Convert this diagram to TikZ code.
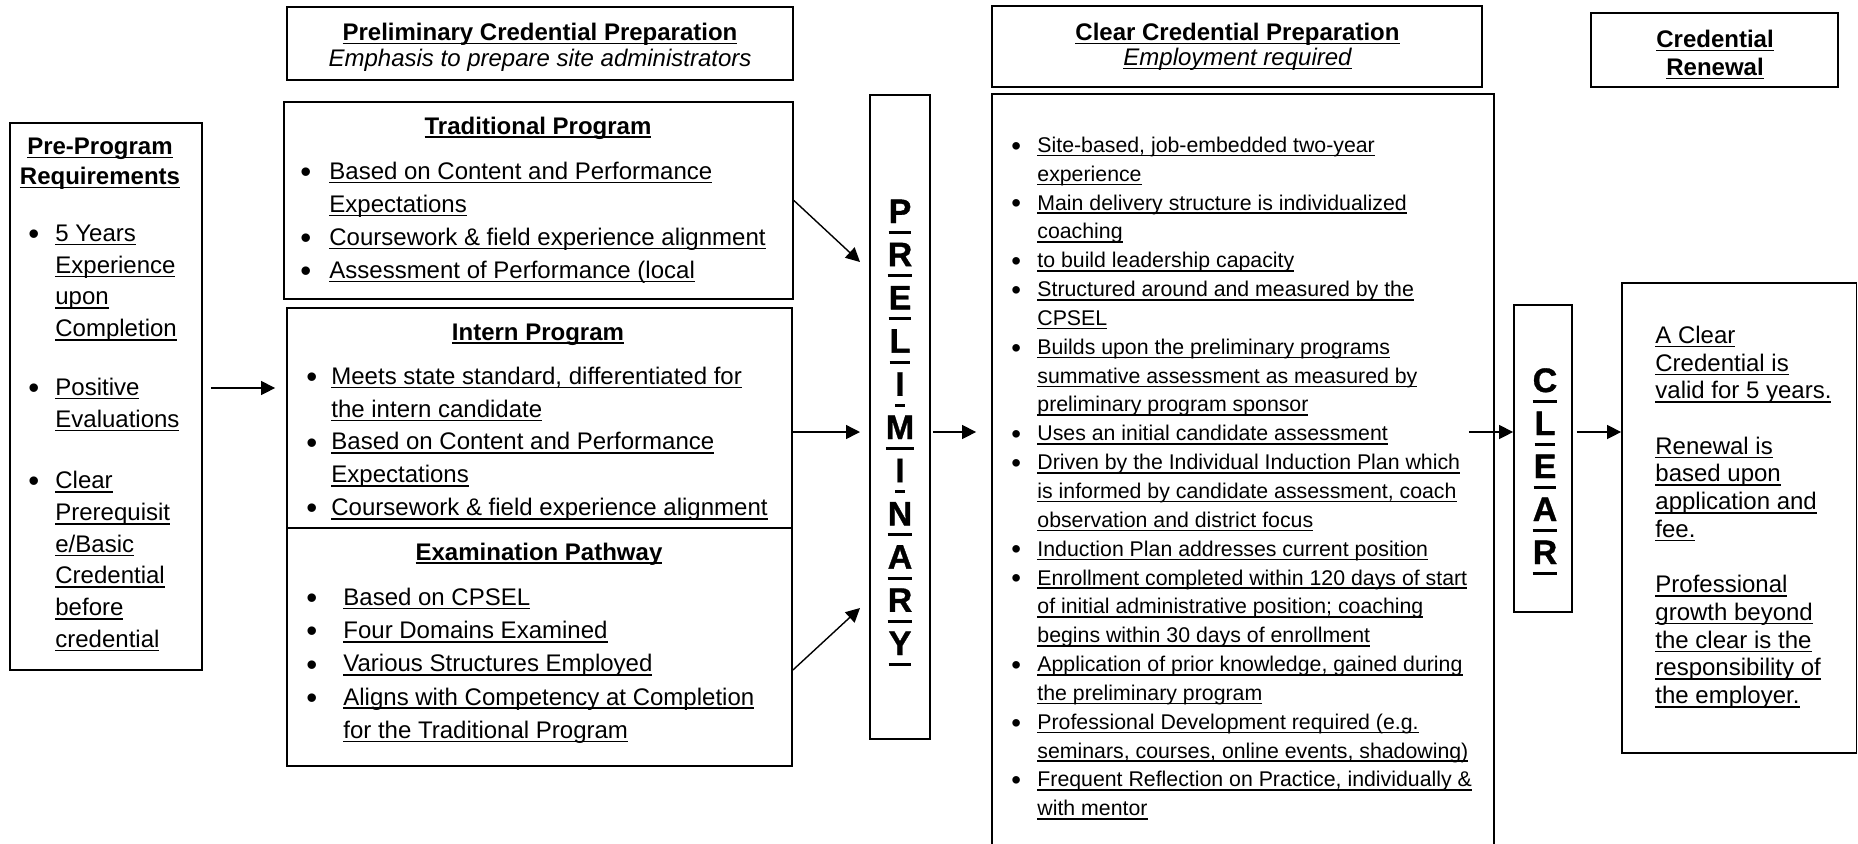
\documentclass[tikz,border=0pt]{standalone}
\usepackage{fontspec}
\usepackage{graphicx}
\setmainfont{Liberation Sans}
\newfontfamily\heavy[FakeBold=1]{Liberation Sans}
\usetikzlibrary{fit,arrows.meta}

\newsavebox{\ulbox}
\newlength{\uldp}
\setlength{\uldp}{2pt}
\newcommand{\ulth}{0.8pt}
\newcommand{\und}[1]{\sbox\ulbox{#1}\rlap{\rule[-\uldp]{\wd\ulbox}{\ulth}}\usebox\ulbox}
\newcommand{\bul}[1]{\llap{\raisebox{-0.25ex}{\scalebox{1.3}{\textbullet}}\hspace{#1}}}
\newcommand{\bigletter}[1]{{\heavy\bfseries\renewcommand{\ulth}{1.5pt}\setlength{\uldp}{5.5pt}\und{#1}}}

\begin{document}
\begin{tikzpicture}
  [x=0.5pt,y=-0.5pt,
   box/.style={draw,
               line width=0.9pt,
               inner sep=0pt},
   txt/.style={inner sep=0pt,
               align=left,
               anchor=north west},
   ctr/.style={inner sep=0pt,
               align=center,
               anchor=north},
   hd/.style={inner sep=0pt,
              anchor=base,
              font={\fontsize{12}{14}\selectfont\bfseries}},
   letter/.style={inner sep=0pt,
                  anchor=base,
                  font={\fontsize{17}{20}\selectfont}},
   arr/.style={-{Triangle[length=7pt,width=7pt]},
               line width=0.7pt}]
  \useasboundingbox (0,0) rectangle (1858,843);

  \node[box, fit={(10,123) (202,670)}] (pre) {};
  \node[box, fit={(287,7) (793,80)}] (prelimhead) {};
  \node[box, fit={(284,102) (793,299)}] (trad) {};
  \node[box, fit={(287,308) (792,528)}] (intern) {};
  \node[box, fit={(287,528) (792,766)}] (exam) {};
  \node[box, fit={(870,95) (930,739)}] (prelim) {};
  \node[box, fit={(992,6) (1482,87)}] (clearhead) {};
  \node[box, fit={(992,94) (1494,870)}] (clearbody) {};
  \node[box, fit={(1514,305) (1572,612)}] (clear) {};
  \node[box, fit={(1591,13) (1838,87)}] (renewhead) {};
  \node[box, fit={(1622,283) (1856.5,753)}] (renewbody) {};

  \node[ctr, font={\fontsize{12}{15}\selectfont\bfseries}] (pretitle) at (100,133)
    {\strut\und{Pre-Program}\\\und{Requirements}};
  \node[txt, font={\fontsize{12}{15.85}\selectfont}] (prelist) at (55,218.8)
    {\strut\bul{8pt}\und{5 Years}\\\und{Experience}\\\und{upon}\\\und{Completion}\\[13.6pt]%
     \bul{8pt}\und{Positive}\\\und{Evaluations}\\[15pt]%
     \bul{8pt}\und{Clear}\\\und{Prerequisit}\\\und{e/Basic}\\\und{Credential}\\\und{before}\\\und{credential}};

  \node[ctr, font={\fontsize{12}{13}\selectfont}] (prelimtitle) at (540,21.8)
    {\strut\textbf{\und{Preliminary Credential Preparation}}\\\textit{Emphasis to prepare site administrators}};

  \node[hd] (tradtitle) at (538,134) {\und{Traditional Program}};
  \node[txt, font={\fontsize{12}{16.5}\selectfont}] (tradlist) at (329,155.9)
    {\strut\bul{9pt}\und{Based on Content and Performance}\\\und{Expectations}\\%
     \bul{9pt}\und{Coursework \& field experience alignment}\\%
     \bul{9pt}\und{Assessment of Performance (local}};

  \node[hd] (interntitle) at (538,340) {\und{Intern Program}};
  \node[txt, font={\fontsize{12}{16.4}\selectfont}] (internlist) at (331,361)
    {\strut\bul{7pt}\und{Meets state standard, differentiated for}\\\und{the intern candidate}\\%
     \bul{7pt}\und{Based on Content and Performance}\\\und{Expectations}\\%
     \bul{7pt}\und{Coursework \& field experience alignment}};

  \node[hd] (examtitle) at (539,560) {\und{Examination Pathway}};
  \node[txt, font={\fontsize{12}{16.6}\selectfont}] (examlist) at (343,581.8)
    {\strut\bul{13pt}\und{Based on CPSEL}\\%
     \bul{13pt}\und{Four Domains Examined}\\%
     \bul{13pt}\und{Various Structures Employed}\\%
     \bul{13pt}\und{Aligns with Competency at Completion}\\\und{for the Traditional Program}};

  \foreach \ch [count=\k from 0] in {P,R,E,L,I,M,I,N,A,R,Y}
    \node[letter] (p\k) at (900,223+43.2*\k) {\bigletter{\ch}};

  \node[ctr, font={\fontsize{12}{12.5}\selectfont}] (cleartitle) at (1237.5,22.5)
    {\strut\textbf{\und{Clear Credential Preparation}}\\\textit{\und{Employment required}}};
  \node[txt, font={\fontsize{10.65}{14.42}\selectfont}] (clearlist) at (1037,131.8)
    {\strut\bul{8.2pt}\und{Site-based, job-embedded two-year}\\\und{experience}\\%
     \bul{8.2pt}\und{Main delivery structure is individualized}\\\und{coaching}\\%
     \bul{8.2pt}\und{to build leadership capacity}\\%
     \bul{8.2pt}\und{Structured around and measured by the}\\\und{CPSEL}\\%
     \bul{8.2pt}\und{Builds upon the preliminary programs}\\\und{summative assessment as measured by}\\\und{preliminary program sponsor}\\%
     \bul{8.2pt}\und{Uses an initial candidate assessment}\\%
     \bul{8.2pt}\und{Driven by the Individual Induction Plan which}\\\und{is informed by candidate assessment, coach}\\\und{observation and district focus}\\%
     \bul{8.2pt}\und{Induction Plan addresses current position}\\%
     \bul{8.2pt}\und{Enrollment completed within 120 days of start}\\\und{of initial administrative position; coaching}\\\und{begins within 30 days of enrollment}\\%
     \bul{8.2pt}\und{Application of prior knowledge, gained during}\\\und{the preliminary program}\\%
     \bul{8.2pt}\und{Professional Development required (e.g.}\\\und{seminars, courses, online events, shadowing)}\\%
     \bul{8.2pt}\und{Frequent Reflection on Practice, individually \&}\\\und{with mentor}};

  \foreach \ch [count=\k from 0] in {C,L,E,A,R}
    \node[letter] (c\k) at (1545,392+43*\k) {\bigletter{\ch}};

  \node[ctr, font={\fontsize{12}{14}\selectfont\bfseries}] (renewtitle) at (1715,27.4)
    {\strut\und{Credential}\\\und{Renewal}};
  \node[txt, font={\fontsize{12}{13.85}\selectfont}] (renewtext) at (1655,323.6)
    {\strut\und{A Clear}\\\und{Credential is}\\\und{valid for 5 years.}\\[13.85pt]%
     \und{Renewal is}\\\und{based upon}\\\und{application and}\\\und{fee.}\\[13.85pt]%
     \und{Professional}\\\und{growth beyond}\\\und{the clear is the}\\\und{responsibility of}\\\und{the employer.}};

  \coordinate (tiptrad) at (860,262);
  \coordinate (tipmid) at (860,432);
  \coordinate (tipexam) at (860,608);

  \draw[arr, shorten <=4pt, shorten >=5.5pt] ([yshift=4.25pt]pre.east) -- ([yshift=4.25pt]pre.east -| intern.west);
  \draw[arr] (trad.east) -- (tiptrad);
  \draw[arr] (intern.east |- tipmid) -- (tipmid);
  \draw[arr] ([yshift=-11.5pt]exam.east) -- (tipexam);
  \draw[arr, shorten <=1pt, shorten >=7.5pt] (prelim.east |- tipmid) -- (clearbody.west |- tipmid);
  \draw[arr, shorten <=-13pt] (clearbody.east |- tipmid) -- (clear.west |- tipmid);
  \draw[arr, shorten <=2pt] (clear.east |- tipmid) -- (renewbody.west |- tipmid);
\end{tikzpicture}
\end{document}
